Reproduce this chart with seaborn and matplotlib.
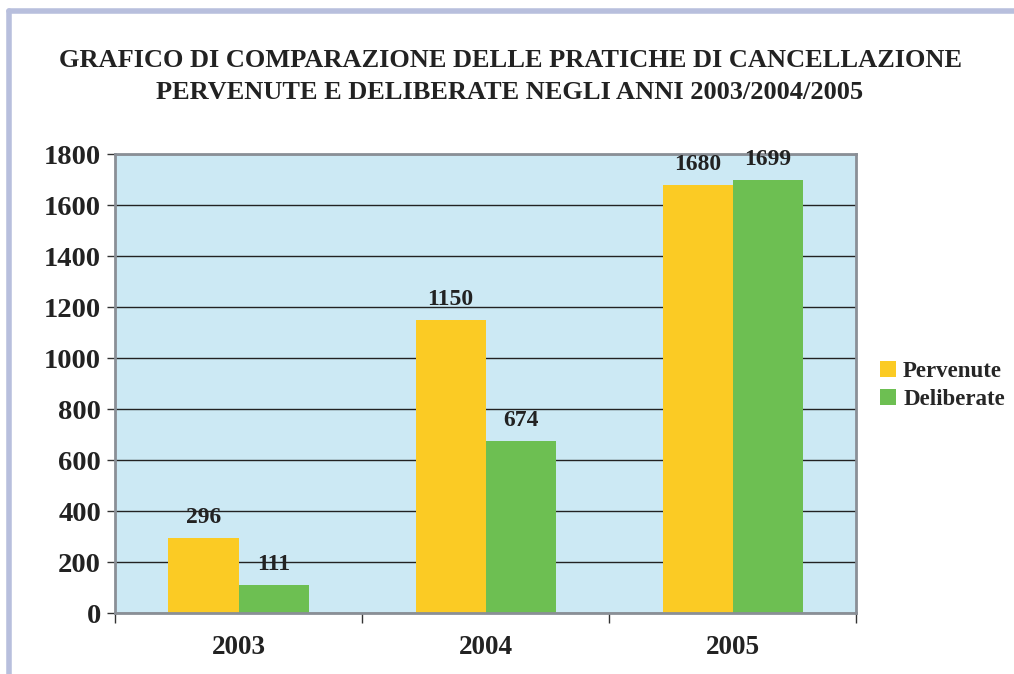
import pandas as pd
import matplotlib
matplotlib.use("Agg")
import matplotlib.pyplot as plt
import seaborn as sns
from matplotlib.ticker import FixedLocator

# Data
anni = ["2003", "2004", "2005"]
pervenute = [296, 1150, 1680]
deliberate = [111, 674, 1699]
serie = ["Pervenute", "Deliberate"]
colori = ["#fbcb24", "#6dbf52"]

df = pd.DataFrame({
    "anno": anni * 2,
    "valore": pervenute + deliberate,
    "serie": [serie[0]] * 3 + [serie[1]] * 3,
})

sns.set_style("white")
plt.rcParams["font.family"] = ["Liberation Serif", "DejaVu Serif"]
plt.rcParams["font.weight"] = "bold"

fig = plt.figure(figsize=(10.14, 6.74), dpi=100)
ax = fig.add_axes([0.1134, 0.0905, 0.731, 0.681])

sns.barplot(data=df, x="anno", y="valore", hue="serie", palette=colori,
            width=0.567, saturation=1, ax=ax, edgecolor="none")

ax.set_facecolor("#cce9f4")
ax.set_ylim(0, 1800)
ax.set_yticks(range(0, 1801, 200))
ax.set_xlim(-0.5, 2.5)
ax.yaxis.grid(True, color="#222222", linewidth=1.0)
ax.set_axisbelow(True)
for s in ax.spines.values():
    s.set_color("#8a8f96")
    s.set_linewidth(2)
ax.set_xlabel("")
ax.set_ylabel("")

ax.tick_params(axis="y", length=6, width=1, color="#333333", direction="out",
               labelsize=20.5, pad=4, left=True, labelcolor="#222222")
ax.tick_params(axis="x", which="major", length=0, labelsize=19.5, pad=16,
               labelcolor="#222222")
ax.xaxis.set_minor_locator(FixedLocator([-0.5, 0.5, 1.5, 2.5]))
ax.tick_params(axis="x", which="minor", length=7, width=1, color="#333333",
               direction="out", bottom=True)
for lbl in ax.get_xticklabels() + ax.get_yticklabels():
    lbl.set_fontweight("bold")

for cont in ax.containers:
    ax.bar_label(cont, padding=7, fontsize=17, fontweight="bold", color="#222222")

ax.legend(loc="center left", bbox_to_anchor=(1.02, 0.495), frameon=False,
          handlelength=0.7, handleheight=0.7, handletextpad=0.3,
          labelspacing=0.3, borderaxespad=0,
          prop={"weight": "bold", "size": 16.5})

fig.text(0.503, 0.887, "GRAFICO DI COMPARAZIONE DELLE PRATICHE DI CANCELLAZIONE\n"
         "PERVENUTE E DELIBERATE NEGLI ANNI 2003/2004/2005",
         ha="center", va="center", fontsize=19, fontweight="bold",
         color="#222222", linespacing=1.5)

# light border at top and left
fig.add_artist(plt.Line2D([0.009, 1.0], [0.983, 0.983], color="#b8bfdd", lw=4,
                          transform=fig.transFigure))
fig.add_artist(plt.Line2D([0.009, 0.009], [0.0, 0.983], color="#b8bfdd", lw=4,
                          transform=fig.transFigure))

fig.savefig("out.png", dpi=100)
